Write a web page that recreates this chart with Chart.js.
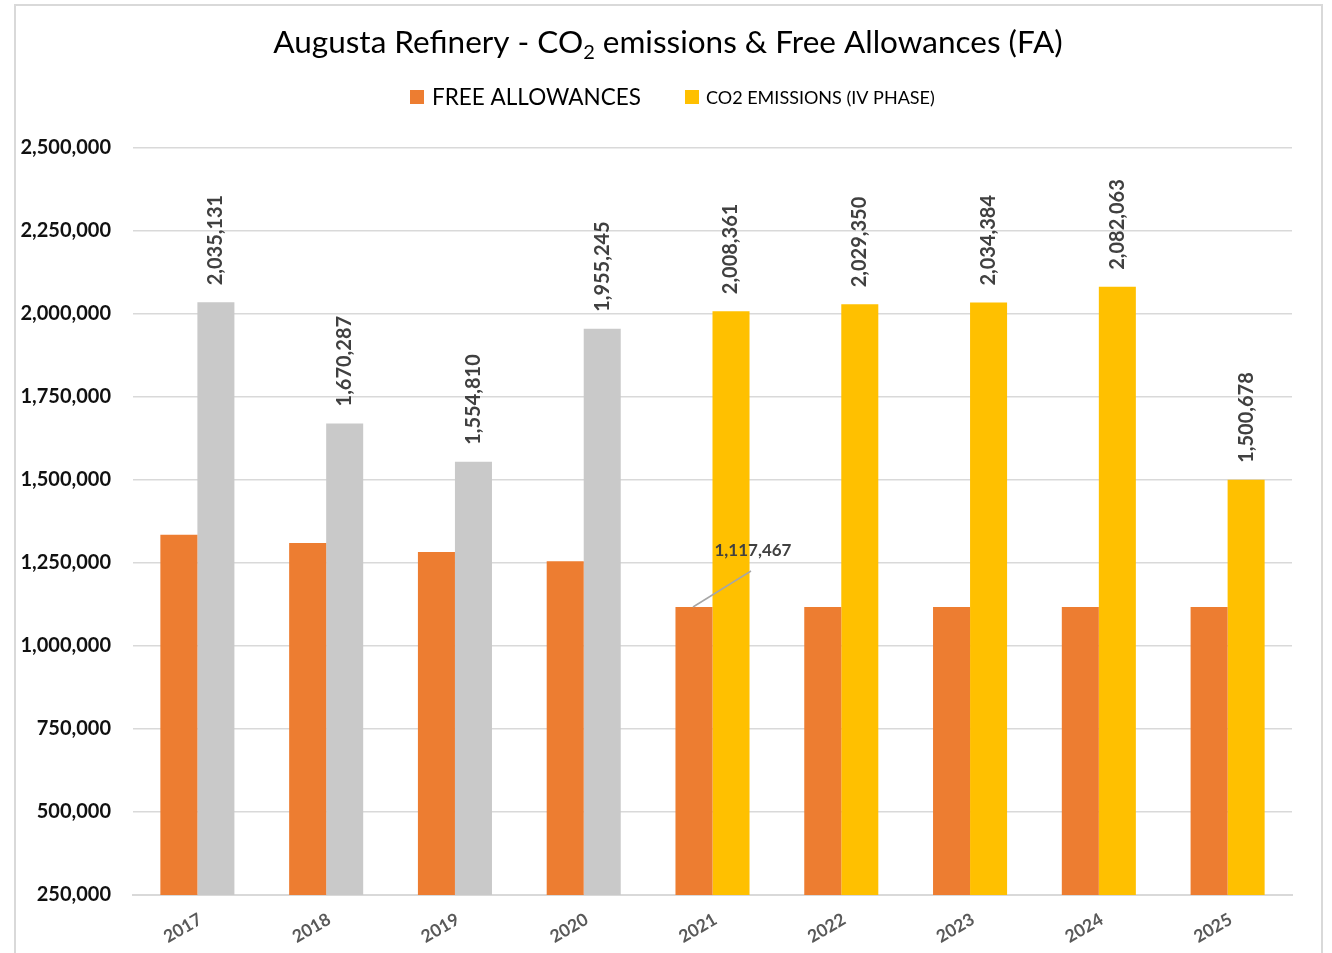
<!DOCTYPE html>
<html>
<head>
<meta charset="utf-8">
<script src="https://cdn.jsdelivr.net/npm/chart.js@4.4.1/dist/chart.umd.min.js"></script>
<style>
  body { margin: 0; background: #fff; }
  #wrap { position: relative; width: 1332px; height: 953px; }
</style>
</head>
<body>
<div id="wrap"><canvas id="chart" width="1332" height="953"></canvas></div>
<script>
// =======================
// DATA
// =======================
const years = ['2017', '2018', '2019', '2020', '2021', '2022', '2023', '2024', '2025'];
const freeAllowances = [1335000, 1310000, 1283000, 1255000, 1117467, 1117467, 1117467, 1117467, 1117467];
const co2Emissions = [2035131, 1670287, 1554810, 1955245, 2008361, 2029350, 2034384, 2082063, 1500678];
const emissionPhase = ['III', 'III', 'III', 'III', 'IV', 'IV', 'IV', 'IV', 'IV'];
const yTicks = [250000, 500000, 750000, 1000000, 1250000, 1500000, 1750000, 2000000, 2250000, 2500000];

const titleParts = ['Augusta Refinery - CO', '2', ' emissions & Free Allowances (FA)'];
const legendNames = ['FREE ALLOWANCES', 'CO2 EMISSIONS (IV PHASE)'];

const ORANGE = '#ED7D31';
const YELLOW = '#FFC000';
const GREY = '#C9C9C9';
const FONT = 'Lato, "Open Sans", sans-serif';

const fmt = v => v.toLocaleString('en-US');

// =======================
// PLUGINS
// =======================
const frame = {
    id: 'frame',
    beforeDraw(chart) {
        const ctx = chart.ctx;
        ctx.save();
        ctx.strokeStyle = '#d9d9d9';
        ctx.lineWidth = 2;
        ctx.beginPath();
        ctx.moveTo(15, 953);
        ctx.lineTo(15, 5);
        ctx.lineTo(1322, 5);
        ctx.lineTo(1322, 953);
        ctx.stroke();
        ctx.restore();
    }
};

const header = {
    id: 'header',
    afterDraw(chart) {
        const ctx = chart.ctx;
        ctx.save();
        ctx.fillStyle = '#000';
        ctx.textBaseline = 'alphabetic';

        // title with subscript 2
        const big = '31.5px ' + FONT;
        const small = '20px ' + FONT;
        ctx.font = big;
        const w0 = ctx.measureText(titleParts[0]).width;
        const w2 = ctx.measureText(titleParts[2]).width;
        ctx.font = small;
        const w1 = ctx.measureText(titleParts[1]).width;
        let x = 668 - (w0 + w1 + w2) / 2;
        const y = 53;
        ctx.font = big;
        ctx.fillText(titleParts[0], x, y);
        x += w0;
        ctx.font = small;
        ctx.fillText(titleParts[1], x, y + 6);
        x += w1;
        ctx.font = big;
        ctx.fillText(titleParts[2], x, y);

        // legend
        ctx.textBaseline = 'middle';
        ctx.fillStyle = ORANGE;
        ctx.fillRect(410, 90, 14, 14);
        ctx.fillStyle = '#000';
        ctx.font = '22.5px ' + FONT;
        ctx.fillText(legendNames[0], 432, 98);

        ctx.fillStyle = YELLOW;
        ctx.fillRect(685, 90, 14, 14);
        ctx.fillStyle = '#000';
        ctx.font = '18px ' + FONT;
        ctx.fillText(legendNames[1], 706, 98);
        ctx.restore();
    }
};

const valueLabels = {
    id: 'valueLabels',
    afterDatasetsDraw(chart) {
        const ctx = chart.ctx;
        ctx.save();
        ctx.fillStyle = '#404040';

        // rotated labels over the emission bars
        ctx.font = 'bold 20px ' + FONT;
        ctx.textAlign = 'left';
        ctx.textBaseline = 'middle';
        chart.getDatasetMeta(1).data.forEach((bar, i) => {
            ctx.save();
            ctx.translate(bar.x, bar.y - 17);
            ctx.rotate(-Math.PI / 2);
            ctx.fillText(fmt(co2Emissions[i]), 0, 0);
            ctx.restore();
        });

        // callout for the first IV phase free allowance
        const i = emissionPhase.indexOf('IV');
        const fa = chart.getDatasetMeta(0).data[i];
        ctx.strokeStyle = '#a6a6a6';
        ctx.lineWidth = 1.5;
        ctx.beginPath();
        ctx.moveTo(fa.x - 1, fa.y);
        ctx.lineTo(fa.x + 57, fa.y - 36);
        ctx.stroke();
        ctx.font = 'bold 17px ' + FONT;
        ctx.textAlign = 'center';
        ctx.textBaseline = 'alphabetic';
        ctx.fillText(fmt(freeAllowances[i]), fa.x + 59, fa.y - 51);
        ctx.restore();
    }
};

// =======================
// CHART
// =======================
new Chart(document.getElementById('chart'), {
    type: 'bar',
    data: {
        labels: years,
        datasets: [{
            label: legendNames[0],
            data: freeAllowances,
            backgroundColor: ORANGE,
            categoryPercentage: 0.575,
            barPercentage: 1
        }, {
            label: legendNames[1],
            data: co2Emissions,
            backgroundColor: emissionPhase.map(p => p === 'IV' ? YELLOW : GREY),
            categoryPercentage: 0.575,
            barPercentage: 1
        }]
    },
    options: {
        responsive: false,
        animation: false,
        layout: { padding: { top: 148, right: 40, left: 0, bottom: 0 } },
        plugins: {
            legend: { display: false },
            title: { display: false },
            tooltip: { enabled: false }
        },
        scales: {
            x: {
                grid: { display: false, drawTicks: false },
                border: { color: '#d9d9d9', width: 2 },
                ticks: {
                    minRotation: 30,
                    maxRotation: 30,
                    padding: 14,
                    labelOffset: 3,
                    color: '#595959',
                    font: { family: FONT, size: 17.5, weight: 'bold' }
                },
                afterFit(scale) { scale.height = 58; }
            },
            y: {
                min: yTicks[0],
                max: yTicks[yTicks.length - 1],
                afterBuildTicks(scale) { scale.ticks = yTicks.map(v => ({ value: v })); },
                grid: { color: '#d9d9d9', lineWidth: 1.5, drawTicks: false },
                border: { display: false },
                ticks: {
                    padding: 22,
                    color: '#111',
                    font: { family: FONT, size: 20, weight: 'bold' },
                    callback: v => fmt(v)
                },
                afterFit(scale) { scale.width = 133; }
            }
        }
    },
    plugins: [frame, header, valueLabels]
});
</script>
</body>
</html>
